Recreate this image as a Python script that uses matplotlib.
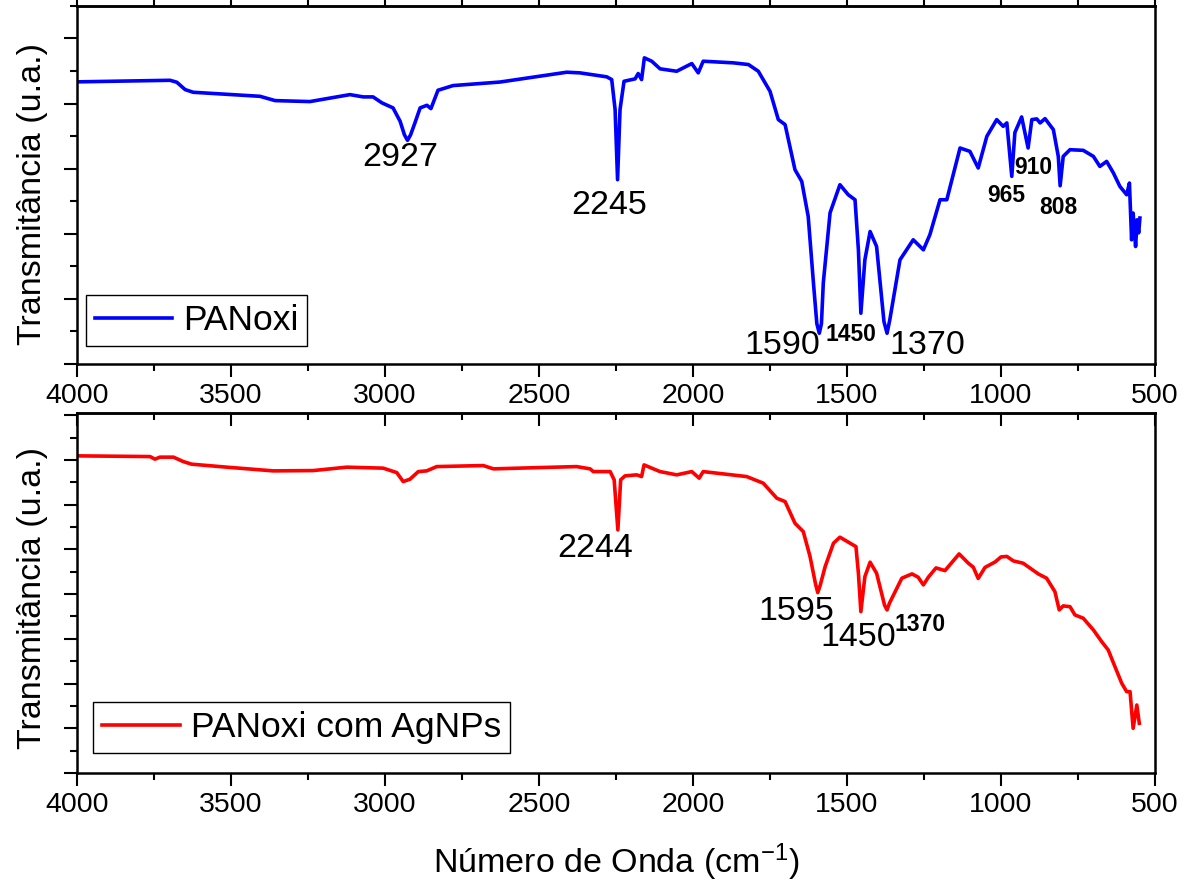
import matplotlib
matplotlib.use('Agg')
import matplotlib.pyplot as plt
from matplotlib.ticker import MultipleLocator

plt.rcParams.update({
    'font.family': 'Liberation Sans',
    'mathtext.fontset': 'custom',
    'mathtext.rm': 'Liberation Sans',
    'mathtext.default': 'regular',
})

# PANoxi spectrum (arbitrary units)
wn_panoxi = [4000, 3698, 3676, 3649, 3623, 3406, 3357, 3244, 3114, 3071, 3039, 3010,
             2974, 2951, 2937, 2927, 2917, 2903, 2886, 2864, 2851, 2828, 2779, 2692, 2627, 2410,
             2367, 2280, 2264, 2253, 2245, 2237, 2224, 2188, 2178, 2167, 2158, 2134,
             2107, 2053, 2004, 1983, 1967, 1869, 1820, 1788, 1750, 1723, 1701, 1669,
             1647, 1626, 1609, 1598, 1590, 1583, 1577, 1555, 1523, 1496, 1474, 1463, 1455, 1442,
             1425, 1404, 1380, 1370, 1361, 1328, 1285, 1252, 1231, 1198, 1176, 1133, 1101, 1074,
             1046, 1014, 993, 981, 965, 955, 933, 912, 900, 884, 873, 857, 830, 814,
             808, 798, 776, 733, 700, 679, 657, 635, 614, 592, 583, 576, 571, 563,
             558, 553, 549]
t_panoxi = [4.334, 4.358, 4.328, 4.215, 4.174, 4.112, 4.046, 4.031, 4.138, 4.103, 4.103, 4.011,
            3.934, 3.728, 3.52, 3.435, 3.52, 3.703, 3.934, 3.974, 3.923, 4.205, 4.277, 4.308, 4.331, 4.482,
            4.472, 4.411, 4.369, 3.908, 2.831, 3.908, 4.343, 4.380, 4.462, 4.369, 4.703, 4.651,
            4.534, 4.497, 4.615, 4.472, 4.651, 4.626, 4.600, 4.497, 4.189, 3.754, 3.677, 2.985,
            2.805, 2.266, 1.246, 0.62, 0.472, 0.62, 1.246, 2.323, 2.754, 2.600, 2.523, 1.754, 0.780, 1.600,
            2.035, 1.805, 0.65, 0.472, 0.68, 1.600, 1.908, 1.754, 1.985, 2.523, 2.523, 3.318, 3.266, 3.011,
            3.497, 3.754, 3.651, 3.703, 2.882, 3.554, 3.795, 3.318, 3.754, 3.765, 3.703, 3.769,
            3.600, 3.189, 2.738, 3.189, 3.292, 3.282, 3.189, 3.035, 3.112, 2.934, 2.728, 2.600,
            2.780, 1.908, 2.318, 1.805, 2.215, 2.015, 2.242]

# PANoxi com AgNPs spectrum
wn_ag = [4000, 3763, 3747, 3731, 3687, 3655, 3628, 3514, 3363, 3233, 3124, 3006, 2962,
         2941, 2919, 2892, 2865, 2832, 2681, 2648, 2497, 2378, 2334, 2324, 2269, 2256,
         2244, 2235, 2221, 2183, 2167, 2159, 2134, 2107, 2053, 2004, 1980, 1967, 1826,
         1772, 1728, 1701, 1669, 1642, 1620, 1602, 1595, 1587, 1571, 1544, 1523, 1490, 1471, 1463,
         1455, 1442, 1425, 1404, 1378, 1370, 1362, 1322, 1289, 1269, 1252, 1236, 1211, 1182, 1136,
         1106, 1090, 1074, 1052, 1019, 1000, 981, 960, 928, 879, 852, 825, 811, 798,
         776, 760, 733, 700, 673, 652, 630, 608, 592, 581, 571, 559, 551]
t_ag = [7.092, 7.076, 7.018, 7.063, 7.063, 6.964, 6.906, 6.839, 6.756, 6.763, 6.839, 6.817, 6.718,
        6.517, 6.570, 6.740, 6.756, 6.852, 6.875, 6.801, 6.830, 6.852, 6.801, 6.740, 6.740, 6.555,
        5.436, 6.555, 6.644, 6.667, 6.629, 6.890, 6.817, 6.740, 6.667, 6.740, 6.593, 6.740, 6.629,
        6.481, 6.145, 6.069, 5.586, 5.398, 4.839, 4.22, 4.034, 4.20, 4.615, 5.139, 5.273, 5.139, 5.063, 4.468,
        3.609, 4.391, 4.714, 4.468, 3.75, 3.647, 3.80, 4.356, 4.452, 4.378, 4.206, 4.378, 4.586, 4.526, 4.899,
        4.691, 4.602, 4.351, 4.597, 4.720, 4.832, 4.843, 4.743, 4.691, 4.452, 4.356, 4.056, 3.647,
        3.736, 3.720, 3.535, 3.461, 3.199, 2.937, 2.752, 2.378, 2.007, 1.819, 1.819, 1.000, 1.521,
        1.112]

# peak labels: text, x, y, bold
peaks_panoxi = [('2927', 2951, 3.17, False), ('2245', 2273, 2.43, False),
                ('1590', 1711, 0.29, False), ('1450', 1487, 0.45, True),
                ('1370', 1240, 0.29, False), ('965', 984, 2.585, True),
                ('910', 896, 3.015, True), ('808', 815, 2.40, True)]
peaks_ag = [('2244', 2318, 5.01, False), ('1595', 1666, 3.62, False),
            ('1450', 1464, 3.02, False), ('1370', 1263, 3.33, True)]

fig = plt.figure(figsize=(11.89, 8.88), dpi=100)
ax1 = fig.add_axes([0.0648, 0.5901, 0.9066, 0.4032])
ax2 = fig.add_axes([0.0648, 0.1295, 0.9066, 0.4054])

ax1.plot(wn_panoxi, t_panoxi, color='#0000FF', lw=2.6, label='PANoxi',
         solid_joinstyle='round')
ax2.plot(wn_ag, t_ag, color='#FF0000', lw=2.6, label='PANoxi com AgNPs',
         solid_joinstyle='round')

for ax, peaks in [(ax1, peaks_panoxi), (ax2, peaks_ag)]:
    for txt, x, y, bold in peaks:
        ax.text(x, y, txt, ha='center', va='center',
                fontsize=16.5 if bold else 24.5,
                fontweight='bold' if bold else 'normal')

ax1.set_ylim(0, 5.5)
ax2.set_ylim(0, 8.05)

for ax, top_dir in [(ax1, 'out'), (ax2, 'in')]:
    ax.set_xlim(4000, 500)
    ax.xaxis.set_major_locator(MultipleLocator(500))
    ax.xaxis.set_minor_locator(MultipleLocator(250))
    ax.yaxis.set_major_locator(MultipleLocator(1))
    ax.yaxis.set_minor_locator(MultipleLocator(0.5))
    ax.tick_params(which='both', direction='out', width=1.5, top=False, right=False,
                   labelleft=False)
    ax.tick_params(which='major', length=9.5, labelsize=20.5, pad=4)
    ax.tick_params(which='minor', length=5)
    for s in ax.spines.values():
        s.set_linewidth(1.8)
    sec = ax.secondary_xaxis('top')
    sec.xaxis.set_major_locator(MultipleLocator(500))
    sec.xaxis.set_minor_locator(MultipleLocator(250))
    sec.tick_params(which='both', direction=top_dir, width=1.5, labeltop=False)
    sec.tick_params(which='major', length=9.5)
    sec.tick_params(which='minor', length=5)
    sec.spines['top'].set_linewidth(1.8)
    ax.set_ylabel('Transmitância (u.a.)', fontsize=24.5)

ax1.yaxis.set_label_coords(-0.027, 0.475)
ax2.yaxis.set_label_coords(-0.027, 0.485)

ax2.set_xlabel('Número de Onda (cm$^{-1}$)', fontsize=24.5)
ax2.xaxis.set_label_coords(0.5, -0.19)

for ax, anchor in [(ax1, (0.008, 0.05)), (ax2, (0.015, 0.056))]:
    leg = ax.legend(loc='lower left', bbox_to_anchor=anchor, borderaxespad=0,
                    fancybox=False, edgecolor='black', framealpha=1, fontsize=25.5,
                    handlelength=2.2, handletextpad=0.3, borderpad=0.25)
    leg.get_frame().set_linewidth(1.0)

plt.savefig('out.png', dpi=100, facecolor='white')
plt.close()
